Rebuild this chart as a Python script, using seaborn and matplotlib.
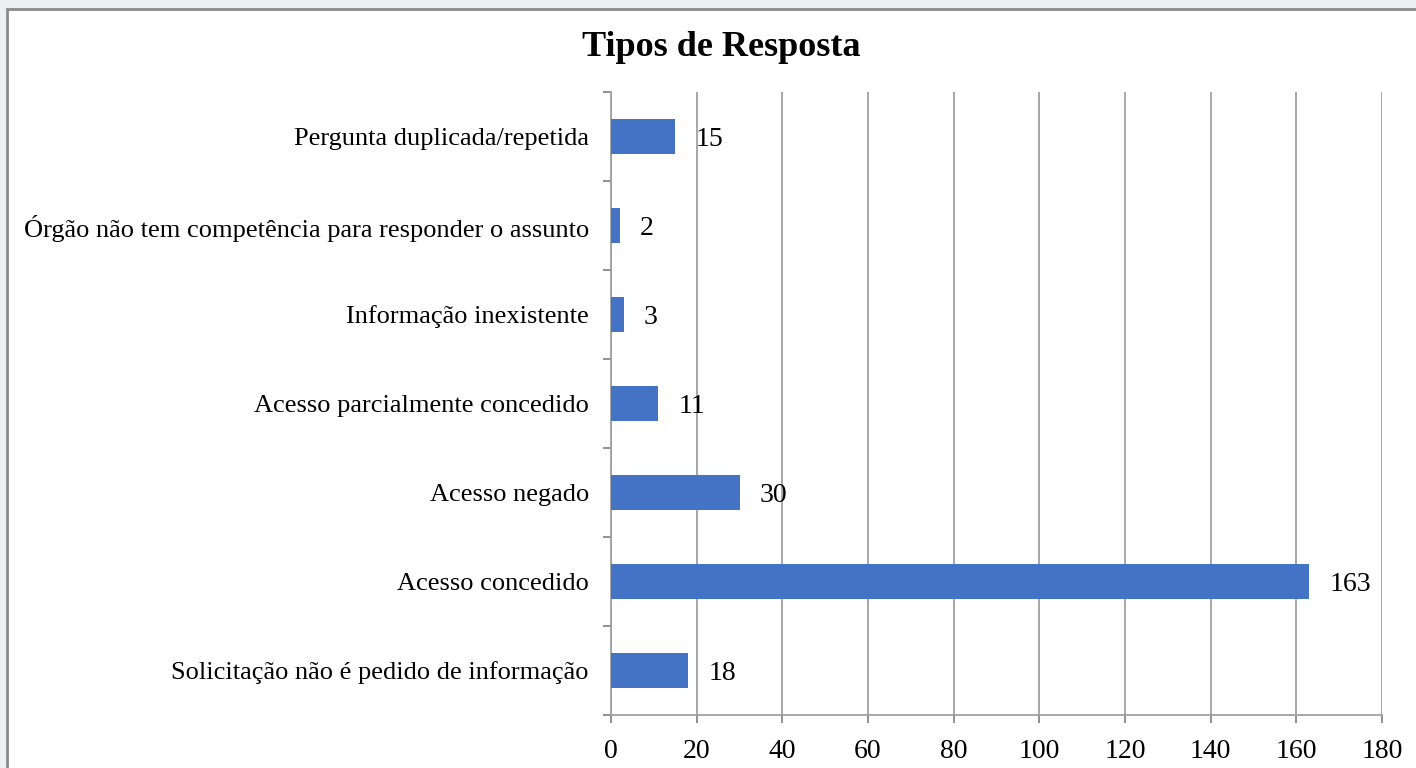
import numpy as np
import pandas as pd
import matplotlib
matplotlib.use("Agg")
import matplotlib.pyplot as plt
from matplotlib.patches import Rectangle
from matplotlib.ticker import FixedLocator
import seaborn as sns

categorias = [
    "Pergunta duplicada/repetida",
    "Órgão não tem competência para responder o assunto",
    "Informação inexistente",
    "Acesso parcialmente concedido",
    "Acesso negado",
    "Acesso concedido",
    "Solicitação não é pedido de informação",
]
quantidades = [15, 2, 3, 11, 30, 163, 18]
x_ticks = [0, 20, 40, 60, 80, 100, 120, 140, 160, 180]

df = pd.DataFrame({"categoria": categorias, "quantidade": quantidades})

sns.set_style("white")
plt.rcParams["font.family"] = ["Liberation Serif", "DejaVu Serif"]

fig = plt.figure(figsize=(14.16, 7.68), dpi=100)
fig.patch.set_facecolor("#eeeff2")

# moldura branca do gráfico
W, H = 1416, 768
frame = Rectangle((7 / W, -0.05), 1.1, 1.05 - 9 / H, transform=fig.transFigure,
                  facecolor="white", edgecolor="#8a8a8a", linewidth=2, zorder=-10)
fig.patches.append(frame)

ax = fig.add_axes([611 / W, 1 - 715 / H, (1382 - 611) / W, (715 - 92) / H])
ax.set_facecolor("none")
ax.set_zorder(5)

sns.barplot(data=df, x="quantidade", y="categoria", orient="h",
            color="#4472c4", saturation=1, width=0.4, linewidth=0,
            ax=ax, zorder=3)

ax.set_xlim(0, 180)
ax.set_ylim(len(categorias) - 0.5, -0.5)
ax.set_xticks(x_ticks)
ax.set_xlabel("")
ax.set_ylabel("")

ax.grid(axis="x", color="#a0a0a0", linewidth=1.3, zorder=0)
ax.set_axisbelow(True)

for s in ["top", "right"]:
    ax.spines[s].set_visible(False)
for s in ["left", "bottom"]:
    ax.spines[s].set_color("#a0a0a0")
    ax.spines[s].set_linewidth(1.3)

ax.yaxis.set_minor_locator(FixedLocator(np.arange(-0.5, len(categorias), 1)))
ax.tick_params(axis="y", which="major", left=True, length=0, pad=16,
               labelsize=19, labelcolor="black")
ax.tick_params(axis="y", which="minor", left=True, length=6, width=1.3,
               color="#888888", direction="out")
ax.tick_params(axis="x", which="major", bottom=True, length=6, width=1.3,
               color="#888888", direction="out", pad=11, labelsize=20,
               labelcolor="black")

rotulos = ax.bar_label(ax.containers[0], labels=[str(v) for v in quantidades],
                       padding=14.5, fontsize=20, color="black")
for t in rotulos:
    t.set_va("center_baseline")

fig.text(721 / W, 1 - 48 / H, "Tipos de Resposta", ha="center", va="center",
         fontsize=26, fontweight="bold", color="black")

fig.savefig("out.png", dpi=100, facecolor=fig.get_facecolor())
